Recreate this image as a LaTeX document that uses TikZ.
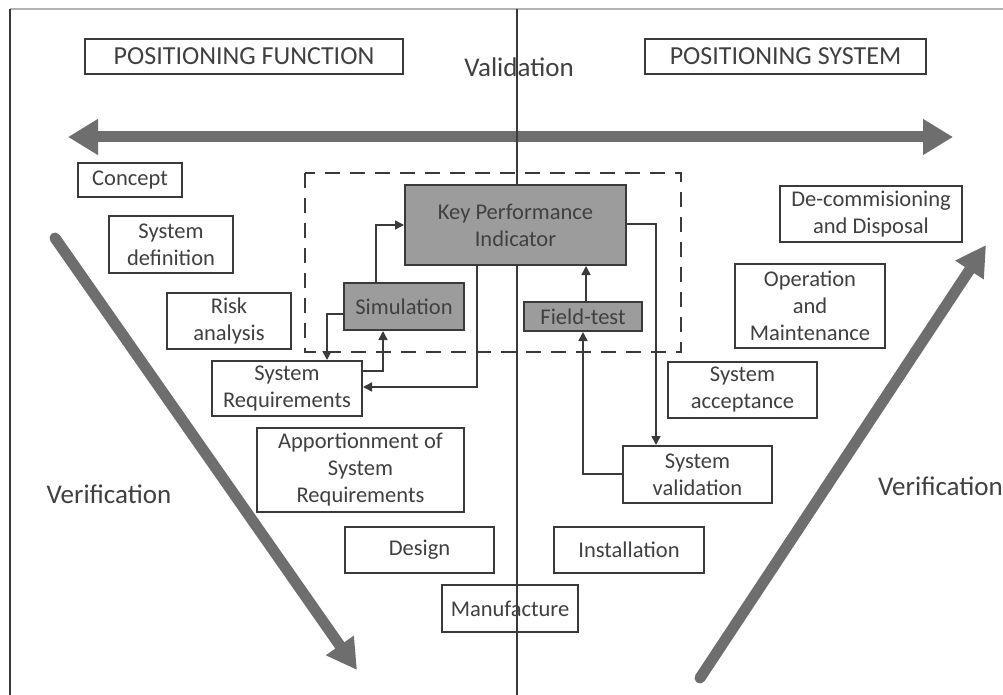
\documentclass[tikz,border=0pt]{standalone}
\usepackage{fontspec}
\setmainfont{Carlito}
\usetikzlibrary{arrows.meta}
\definecolor{ink}{HTML}{3A3A3A}
\definecolor{txt}{HTML}{404040}
\definecolor{bigarrow}{HTML}{6E6E6E}
\definecolor{kpifill}{HTML}{9C9C9C}
\begin{document}
\begin{tikzpicture}[x=1pt,y=-1pt,
  every node/.style={text=txt, font=\fontsize{22.5}{27}\selectfont, align=center, inner sep=0pt},
  stagebox/.style={draw=ink, line width=2pt, fill=white},
  greybox/.style={draw=ink, line width=2pt, fill=kpifill},
  titlebox/.style={draw=ink, line width=2.2pt, fill=white, font=\fontsize{26}{28}\selectfont},
  biglabel/.style={font=\fontsize{27}{30}\selectfont},
  flow/.style={draw=ink, line width=1.6pt, -{Triangle[length=9pt,width=9pt]}},
  thick arrow/.style={draw=bigarrow, line width=11pt, -{Triangle[length=30pt,width=32pt]}},
  frame/.style={draw=ink, line width=2pt}]
\clip (0,0) rectangle (1003,695);
\fill[white] (0,0) rectangle (1003,695);

% outer frame
\draw[draw=gray!60, line width=1.5pt] (10,9) -- (1003,9);
\coordinate (frameTL) at (10,9);
\coordinate (frameBL) at (10,695);
\draw[frame] (frameTL) -- (frameBL);

% headings
\node[titlebox, minimum width=318pt, minimum height=35pt] (pf) at (244,56.5) {POSITIONING FUNCTION};
\node[titlebox, minimum width=281pt, minimum height=35pt] (ps) at (785.5,56.5) {POSITIONING SYSTEM};
\node[biglabel] (valid) at (519,67) {Validation};

% validation double arrow
\coordinate (vL) at (68,137);
\coordinate (vR) at (953,137);
\draw[draw=bigarrow, line width=11pt, {Triangle[length=30pt,width=34pt]}-{Triangle[length=30pt,width=34pt]}] (vL) -- (vR);

% verification arrows
\coordinate (dA) at (55,238);
\coordinate (dB) at (357,670);
\coordinate (uA) at (700,678);
\coordinate (uB) at (986,245);
\draw[thick arrow, line cap=round] (dA) -- (dB);
\draw[thick arrow, line cap=round] (uA) -- (uB);
\node[biglabel] (verL) at (109,494) {Verification};
\node[biglabel, anchor=west] (verR) at (878,486) {Verification};

% centre divider
\coordinate (divT) at (517,9);
\coordinate (divB) at (517,695);
\draw[frame] (divT) -- (divB);

% dashed test region
\draw[draw=ink, line width=2.5pt, dash pattern=on 15pt off 10pt] (305,173) rectangle (681,352);

% left branch stages
\node[stagebox, minimum width=104pt, minimum height=34pt] (concept) at (130,180) {Concept};
\node[stagebox, minimum width=124pt, minimum height=57pt] (sysdef) at (171,244.5) {System\\definition};
\node[stagebox, minimum width=124pt, minimum height=56pt] (risk) at (229,321) {Risk\\analysis};
\node[stagebox, minimum width=150pt, minimum height=55pt] (sysreq) at (287,388.5) {System\\Requirements};
\node[stagebox, minimum width=207pt, minimum height=84pt] (appo) at (360.5,470) {Apportionment of\\System\\Requirements};
\node[stagebox, minimum width=149pt, minimum height=46pt] (design) at (419.5,550) {Design};
\node[draw=ink, line width=2pt, minimum width=136pt, minimum height=47pt] (manu) at (510,608.5) {Manufacture};

% right branch stages
\node[stagebox, minimum width=150pt, minimum height=46pt] (install) at (629,550) {Installation};
\node[stagebox, minimum width=149pt, minimum height=57pt] (sysval) at (697.5,474.5) {System\\validation};
\node[stagebox, minimum width=149pt, minimum height=56pt] (sysacc) at (742.5,390) {System\\acceptance};
\node[stagebox, minimum width=150pt, minimum height=84pt] (opmain) at (810,306) {Operation\\and\\Maintenance};
\node[stagebox, minimum width=182pt, minimum height=56pt] (decom) at (871,214) {De-commisioning\\and Disposal};

% test blocks
\node[greybox, minimum width=221pt, minimum height=80pt] (kpi) at (515.5,225) {Key Performance\\Indicator};
\node[greybox, minimum width=120pt, minimum height=47pt] (sim) at (404,306.5) {Simulation};
\node[greybox, minimum width=118pt, minimum height=29pt] (field) at (583,316.5) {Field-test};

% feedback loops
\draw[flow] (sim.north -| 376,0) |- (kpi.west |- 0,225);
\draw[flow] (sim.west |- 0,314) -| (sysreq.north -| 327,0);
\draw[flow] (sysreq.east |- 0,371) -| (sim.south -| 383,0);
\draw[flow] (kpi.south -| 477,0) |- (sysreq.east |- 0,387);
\draw[flow] (kpi.east |- 0,224) -| (sysval.north -| 656,0);
\draw[flow] (sysval.west |- 0,474) -| (field.south -| 583,0);
\draw[flow] (field.north -| 586,0) -- (kpi.south -| 586,0);
\end{tikzpicture}
\end{document}
